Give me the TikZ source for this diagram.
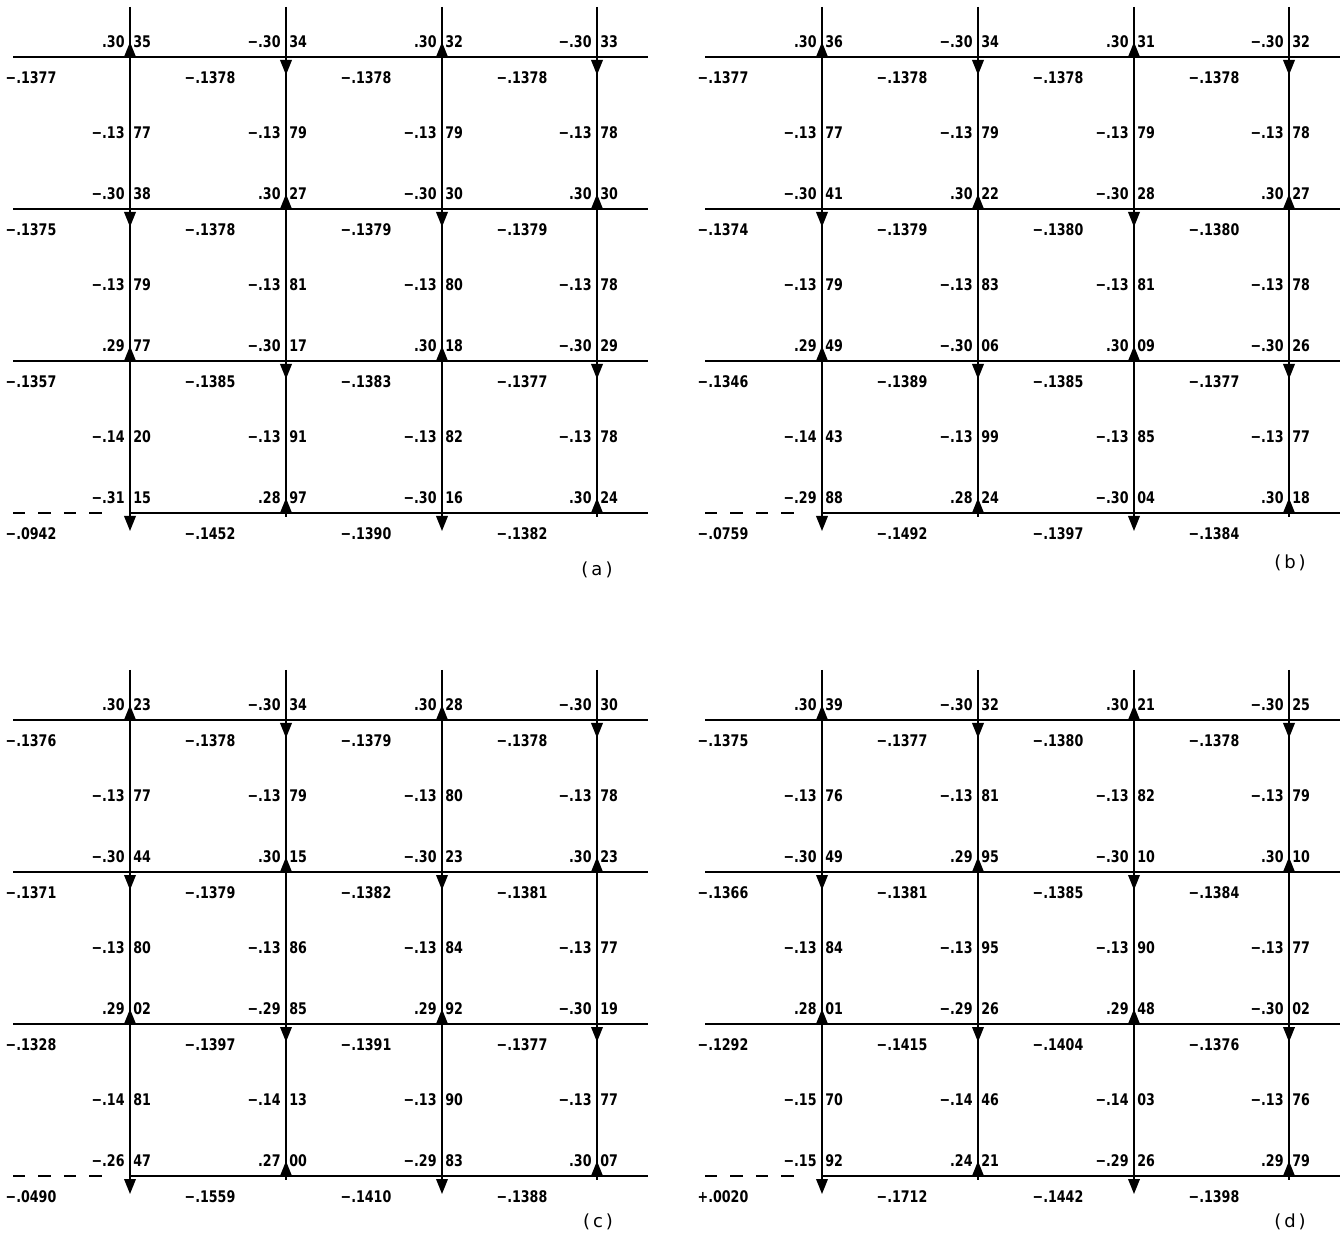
\documentclass[tikz,border=0pt]{standalone}
\usepackage{fontspec}
\setmainfont{DejaVu Sans Condensed}
\newfontfamily\gridfont{DejaVu Sans Condensed}[FakeStretch=0.88]
\newfontfamily\tagfont{DejaVu Sans}
\usepackage{tikz}
\usetikzlibrary{arrows.meta}

\def\dirup{u}
\def\dirdown{d}

\tikzset{
  gridline/.style={line width=0.85pt, black},
  dashline/.style={gridline, dash pattern=on 6.2pt off 6.5pt},
  flowtip/.style={line width=0.85pt, -{Triangle[length=7.5pt, width=5.8pt]}},
  lpart/.style={anchor=east, inner sep=0pt, font=\gridfont\fontsize{8}{9}\selectfont\bfseries},
  rpart/.style={lpart, anchor=west},
  cellval/.style={inner sep=0pt, font=\gridfont\fontsize{8}{9}\selectfont\bfseries},
  tagtext/.style={inner sep=0pt, font=\tagfont\fontsize{9}{10}\selectfont},
}

% one panel: #1 name, #2/#3 offset, #4-#7 values along each column, #8 cell values
\newcommand{\gridpanel}[8]{%
  \begin{scope}[shift={(#2,#3)}]
    \foreach \j/\y in {1/57,2/209,3/361,4/513}{
      \coordinate (#1-h\j-l) at (13,\y);
      \coordinate (#1-h\j-r) at (648,\y);
      \foreach \i/\x in {1/130,2/286,3/442,4/597}
        \coordinate (#1-\i-\j) at (\x,\y);
    }
    \coordinate (#1-dash-e) at (104,513);
    \foreach \j in {1,2,3}
      \draw[gridline] (#1-h\j-l) -- (#1-h\j-r);
    \draw[dashline] (#1-h4-l) -- (#1-dash-e);
    \draw[gridline] (#1-1-4) -- (#1-h4-r);
    \foreach \i/\x/\colvals in {1/130/{#4},2/286/{#5},3/442/{#6},4/597/{#7}}{
      \coordinate (#1-v\i-t) at (\x,7);
      \coordinate (#1-v\i-b) at (\x,517);
      \draw[gridline] (#1-v\i-t) -- (#1-v\i-b);
      \foreach \lv/\rv/\dir [count=\k] in \colvals {
        \pgfmathsetmacro{\yy}{57+76*(\k-1)-15*mod(\k,2)}
        \pgfmathtruncatemacro{\jj}{(\k+1)/2}
        \node[lpart] (#1-\i-\k-l) at (\x-5,\yy) {\lv};
        \node[rpart] (#1-\i-\k-r) at (\x+3,\yy) {\rv};
        \ifx\dir\dirup \draw[flowtip] (#1-\i-\jj) -- ++(0,-15); \fi
        \ifx\dir\dirdown \draw[flowtip] (#1-\i-\jj) -- ++(0,18); \fi
      }
    }
    \foreach \cv [count=\cn] in {#8}{
      \pgfmathtruncatemacro{\crow}{(\cn-1)/4}
      \pgfmathtruncatemacro{\ccol}{mod(\cn-1,4)}
      \pgfmathsetmacro{\cx}{{31,210,366,522}[\ccol]}
      \node[cellval] (#1-cell\cn) at (\cx,{78+152*\crow}) {\cv};
    }
  \end{scope}}

\begin{document}
\begin{tikzpicture}[x=0.5pt, y=-0.5pt]
  \useasboundingbox (0,0) rectangle (1344,1234);

  \gridpanel{a}{0}{0}
    {.30/35/u, −.13/77/n, −.30/38/d, −.13/79/n, .29/77/u, −.14/20/n, −.31/15/d}
    {−.30/34/d, −.13/79/n, .30/27/u, −.13/81/n, −.30/17/d, −.13/91/n, .28/97/u}
    {.30/32/u, −.13/79/n, −.30/30/d, −.13/80/n, .30/18/u, −.13/82/n, −.30/16/d}
    {−.30/33/d, −.13/78/n, .30/30/u, −.13/78/n, −.30/29/d, −.13/78/n, .30/24/u}
    {−.1377, −.1378, −.1378, −.1378, −.1375, −.1378, −.1379, −.1379,
     −.1357, −.1385, −.1383, −.1377, −.0942, −.1452, −.1390, −.1382}

  \gridpanel{b}{692}{0}
    {.30/36/u, −.13/77/n, −.30/41/d, −.13/79/n, .29/49/u, −.14/43/n, −.29/88/d}
    {−.30/34/d, −.13/79/n, .30/22/u, −.13/83/n, −.30/06/d, −.13/99/n, .28/24/u}
    {.30/31/u, −.13/79/n, −.30/28/d, −.13/81/n, .30/09/u, −.13/85/n, −.30/04/d}
    {−.30/32/d, −.13/78/n, .30/27/u, −.13/78/n, −.30/26/d, −.13/77/n, .30/18/u}
    {−.1377, −.1378, −.1378, −.1378, −.1374, −.1379, −.1380, −.1380,
     −.1346, −.1389, −.1385, −.1377, −.0759, −.1492, −.1397, −.1384}

  \gridpanel{c}{0}{663}
    {.30/23/u, −.13/77/n, −.30/44/d, −.13/80/n, .29/02/u, −.14/81/n, −.26/47/d}
    {−.30/34/d, −.13/79/n, .30/15/u, −.13/86/n, −.29/85/d, −.14/13/n, .27/00/u}
    {.30/28/u, −.13/80/n, −.30/23/d, −.13/84/n, .29/92/u, −.13/90/n, −.29/83/d}
    {−.30/30/d, −.13/78/n, .30/23/u, −.13/77/n, −.30/19/d, −.13/77/n, .30/07/u}
    {−.1376, −.1378, −.1379, −.1378, −.1371, −.1379, −.1382, −.1381,
     −.1328, −.1397, −.1391, −.1377, −.0490, −.1559, −.1410, −.1388}

  \gridpanel{d}{692}{663}
    {.30/39/u, −.13/76/n, −.30/49/d, −.13/84/n, .28/01/u, −.15/70/n, −.15/92/d}
    {−.30/32/d, −.13/81/n, .29/95/u, −.13/95/n, −.29/26/d, −.14/46/n, .24/21/u}
    {.30/21/u, −.13/82/n, −.30/10/d, −.13/90/n, .29/48/u, −.14/03/n, −.29/26/d}
    {−.30/25/d, −.13/79/n, .30/10/u, −.13/77/n, −.30/02/d, −.13/76/n, .29/79/u}
    {−.1375, −.1377, −.1380, −.1378, −.1366, −.1381, −.1385, −.1384,
     −.1292, −.1415, −.1404, −.1376, +.0020, −.1712, −.1442, −.1398}

  \node[tagtext] (tag-a) at (597,570) {(\,a\,)};
  \node[tagtext] (tag-b) at (1290,563) {(\,b\,)};
  \node[tagtext] (tag-c) at (598,1222) {(\,c\,)};
  \node[tagtext] (tag-d) at (1290,1222) {(\,d\,)};
\end{tikzpicture}
\end{document}
